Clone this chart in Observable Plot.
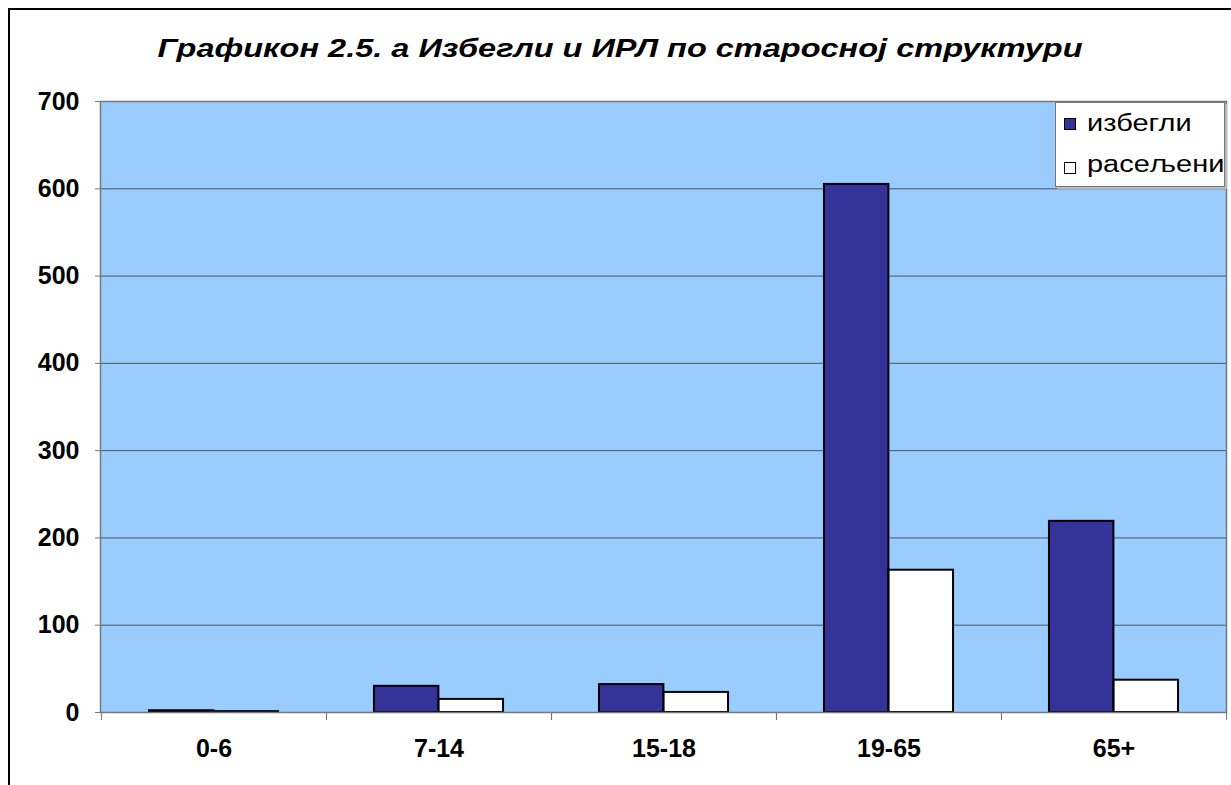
<!DOCTYPE html>
<html><head><meta charset="utf-8">
<script src="https://cdn.jsdelivr.net/npm/d3@7"></script>
<script src="https://cdn.jsdelivr.net/npm/@observablehq/plot@0.6"></script>
<style>
body{margin:0;background:#fff;font-family:"Liberation Sans",Arial,sans-serif}
#wrap{position:relative;width:1231px;height:785px;overflow:hidden}
#chart{position:absolute;left:0;top:0}
#border{position:absolute;left:8px;top:8px;width:1300px;height:800px;border-top:2px solid #000;border-left:2px solid #000;pointer-events:none}
#title{position:absolute;left:0;width:1240px;top:36px;text-align:center;font:italic bold 25px "Liberation Sans",Arial,sans-serif;line-height:25px;color:#000;transform:scaleX(1.3);transform-origin:620px 0;white-space:nowrap}
#legend{position:absolute;left:1055px;top:102px;width:168px;height:83px;background:#fff;border:1px solid #777;box-shadow:2px 2px 0 #bbb}
.sw{position:absolute;left:8px;width:10px;height:10px;border:1.5px solid #000}
.lt{position:absolute;left:31px;font:23px "Liberation Sans",Arial,sans-serif;line-height:23px;color:#000;white-space:nowrap;transform:scaleX(1.26);transform-origin:0 0}
</style></head>
<body>
<div id="wrap">
  <div id="chart"></div>
  <div id="border"></div>
  <div id="title"></div>
  <div id="legend"></div>
</div>
<script>
const title = "Графикон 2.5. а Избегли и ИРЛ по старосној структури";
const ages = ["0-6", "7-14", "15-18", "19-65", "65+"];
const seriesNames = ["избегли", "расељени"];
const refugees = [2, 30, 32, 605, 219];
const displaced = [1, 15, 23, 163, 37];
const yTicks = [0, 100, 200, 300, 400, 500, 600, 700];
const colors = ["#333399", "#ffffff"];

const W = 1231, H = 785;
const mL = 100, mR = 5, mT = 101, mB = 73;
const bw = (W - mL - mR) / ages.length;
const outer = bw * 0.213;

const rows = ages.flatMap((a, i) => [
  {age: a, series: seriesNames[0], value: refugees[i]},
  {age: a, series: seriesNames[1], value: displaced[i]}
]);

const fontTick = {fontSize: 25, fontWeight: "bold", fontFamily: "Liberation Sans, Arial, sans-serif"};

const chart = Plot.plot({
  width: W, height: H,
  marginLeft: mL, marginRight: mR, marginTop: mT, marginBottom: mB,
  style: {background: "transparent", fontFamily: "Liberation Sans, Arial, sans-serif", color: "#000"},
  x: {domain: ages, padding: 0, axis: null, label: null},
  y: {domain: [0, 700], axis: null, label: null},
  marks: [
    Plot.frame({fill: "#99ccff", stroke: "none"}),
    Plot.gridY(yTicks, {stroke: "#555", strokeOpacity: 1, strokeWidth: 1}),
    Plot.barY(rows.filter(d => d.series === seriesNames[0]), {
      x: "age", y: "value", fill: colors[0], stroke: "#000", strokeWidth: 2,
      insetLeft: outer, insetRight: bw / 2
    }),
    Plot.barY(rows.filter(d => d.series === seriesNames[1]), {
      x: "age", y: "value", fill: colors[1], stroke: "#000", strokeWidth: 2,
      insetLeft: bw / 2, insetRight: outer
    }),
    Plot.frame({stroke: "#777", strokeWidth: 1.5}),
    Plot.axisY({ticks: yTicks, tickSize: 5, tickPadding: 16, stroke: "#777", label: null, ...fontTick}),
    Plot.axisX({tickSize: 8, tickFormat: () => "", dx: -bw / 2, stroke: "#777", label: null}),
    Plot.axisX({tickSize: 8, tickFormat: () => "", dx: bw / 2, stroke: "#777", label: null}),
    Plot.axisX({tickSize: 0, tickPadding: 27, label: null, ...fontTick})
  ]
});
document.getElementById("chart").appendChild(chart);
document.getElementById("title").textContent = title;

const leg = document.getElementById("legend");
seriesNames.forEach((s, i) => {
  const sw = document.createElement("div");
  sw.className = "sw";
  sw.style.top = (i === 0 ? 15 : 59) + "px";
  sw.style.background = colors[i];
  leg.appendChild(sw);
  const t = document.createElement("div");
  t.className = "lt";
  t.style.top = (i === 0 ? 9 : 50) + "px";
  t.textContent = s;
  leg.appendChild(t);
});
</script>
</body></html>
